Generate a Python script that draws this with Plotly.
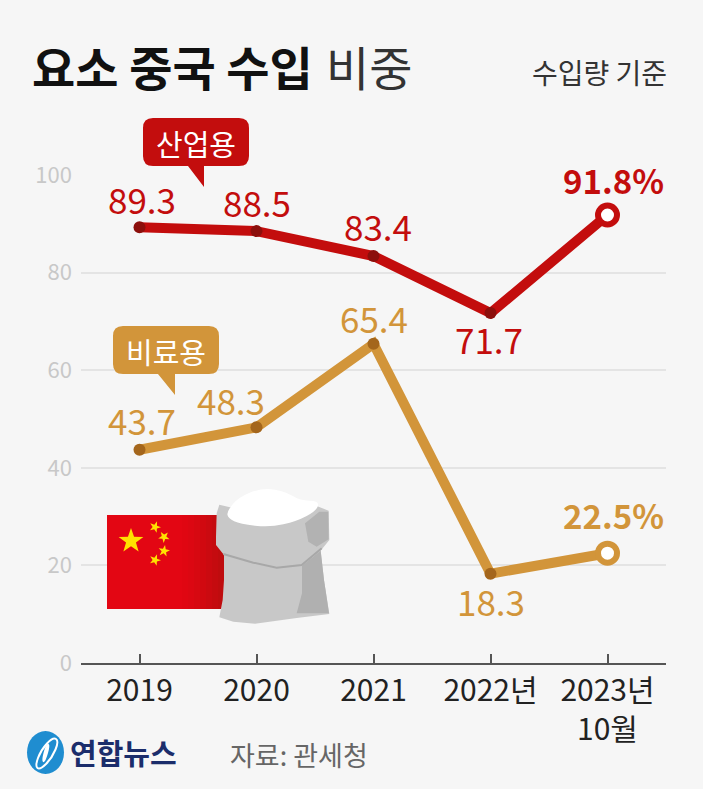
import math
import plotly.graph_objects as go

categories = ["2019", "2020", "2021", "2022년", "2023년<br>10월"]
industrial = [89.3, 88.5, 83.4, 71.7, 91.8]
fertilizer = [43.7, 48.3, 65.4, 18.3, 22.5]
y_ticks = [0, 20, 40, 60, 80, 100]

W, H = 703, 789
L, R, T, B = 81, 666, 175, 663
RED, RED_D = "#c30d0d", "#8c0f0c"
ORG, ORG_D = "#d2953a", "#a4661c"
BG = "#f6f6f6"
FONT = "Noto Sans CJK KR"

def X(px):
    return (px - L) / (R - L)

def Y(py):
    return (B - py) / (B - T)

def P(x, y):
    return f"{X(x):.5f},{Y(y):.5f}"

def poly(points, close=True):
    s = "M" + " L".join(P(x, y) for x, y in points)
    return s + (" Z" if close else "")

def smooth(points):
    n = len(points)
    mid = lambda a, b: ((a[0] + b[0]) / 2, (a[1] + b[1]) / 2)
    s = "M" + P(*mid(points[-1], points[0]))
    for i in range(n):
        s += " Q" + P(*points[i]) + " " + P(*mid(points[i], points[(i + 1) % n]))
    return s + " Z"

shapes = []

def add(path, fill=None, line=None, width=0):
    shapes.append(dict(type="path", xref="paper", yref="paper", path=path, layer="above",
                       fillcolor=fill or "rgba(0,0,0,0)",
                       line=dict(color=line or "rgba(0,0,0,0)", width=width)))

def bubble(x0, y0, x1, y1, r, tip, base0, base1, color):
    s = ("M" + P(x0 + r, y0) + " L" + P(x1 - r, y0) + " Q" + P(x1, y0) + " " + P(x1, y0 + r)
         + " L" + P(x1, y1 - r) + " Q" + P(x1, y1) + " " + P(x1 - r, y1)
         + " L" + P(base1, y1) + " L" + P(*tip) + " L" + P(base0, y1)
         + " L" + P(x0 + r, y1) + " Q" + P(x0, y1) + " " + P(x0, y1 - r)
         + " L" + P(x0, y0 + r) + " Q" + P(x0, y0) + " " + P(x0 + r, y0) + " Z")
    add(s, fill=color)

def star(cx, cy, r, rot=0):
    pts = []
    for i in range(10):
        a = math.radians(-90 + rot + i * 36)
        rr = r if i % 2 == 0 else r * 0.4
        pts.append((cx + rr * math.cos(a), cy + rr * math.sin(a)))
    add(poly(pts), fill="#ffe100")

bubble(143, 118, 249, 166, 10, (204, 187), 188, 204, RED)
bubble(113, 326, 219, 374, 10, (175, 395), 158, 175, ORG)

add(poly([(107, 515), (224, 515), (224, 609), (107, 609)]), fill="#e30613")
shade = ["#e00612", "#dc0712", "#d70811", "#d10910", "#cb0a10", "#c50b0f", "#bf0c0e"]
for i, c in enumerate(shade):
    x0 = 182 + i * 6
    add(poly([(x0, 515), (x0 + 6.5, 515), (x0 + 6.5, 609), (x0, 609)]), fill=c)
star(131, 541, 13)
star(155, 527, 6, 20)
star(164, 537, 6, 40)
star(164, 551, 6, 10)
star(155, 560, 6, 20)

def S(pts):
    return [(a / 3, 480 + b / 3) for a, b in pts]

add(poly(S([(650, 100), (658, 74), (690, 82), (950, 78), (986, 92), (988, 180), (962, 212), (972, 300),
            (988, 402), (890, 414), (765, 431), (700, 425), (658, 412), (668, 360), (672, 300), (672, 225),
            (648, 195), (648, 170)])), fill="#c8c8c8")
add(poly(S([(906, 258), (962, 212), (972, 300), (987, 400), (890, 400), (906, 340)])), fill="#b0b0b0")
add(poly(S([(915, 130), (958, 95), (985, 95), (986, 178), (950, 200), (925, 185)])), fill="#b2b2b2")
add("M" + " L".join(P(a, b) for a, b in S([(670, 222), (760, 248), (830, 263), (905, 255), (965, 205)])),
    line="#a8a8a8", width=2)
add(smooth(S([(680, 95), (715, 52), (790, 22), (860, 36), (900, 62), (958, 62), (950, 92), (890, 124),
              (810, 142), (720, 132), (685, 115)])), fill="#ffffff")

shapes.append(dict(type="circle", xref="paper", yref="paper", layer="above",
                   x0=X(27), x1=X(64), y0=Y(774), y1=Y(731), fillcolor="#1f8dd0", line_width=0))
add(smooth([(53, 737), (59, 741), (52, 758), (40, 770), (35, 766), (41, 750)]), line="#ffffff", width=2)
add(smooth([(48, 743), (50, 746), (46, 760), (43, 763), (42, 759), (45, 747)]), fill="#ffffff")


def text(px, py, s, size, color, xanchor="center", bold=False, font=FONT):
    return dict(xref="paper", yref="paper", x=X(px), y=Y(py), text=f"<b>{s}</b>" if bold else s,
                showarrow=False, xanchor=xanchor, yanchor="middle",
                font=dict(family=font, size=size, color=color))


def value_label(i, series, color, dx, dy, size=35, suffix="", bold=False):
    v = series[i]
    return dict(x=i, y=v, xref="x", yref="y", text=(f"<b>{v}{suffix}</b>" if bold else f"{v}{suffix}"),
                showarrow=False, xanchor="center", yanchor="middle", xshift=dx, yshift=dy,
                font=dict(family=FONT, size=size, color=color))


annotations = [
    text(30, 66, "요소 중국 수입", 47, "#111111", "left", True),
    text(324, 66, "비중", 47, "#333333", "left"),
    text(669, 72, "수입량 기준", 28, "#333333", "right"),
    text(196, 143, "산업용", 29, "#ffffff"),
    text(166, 351, "비료용", 29, "#ffffff"),
    text(68, 752, "연합뉴스", 29, "#1b2d6b", "left", True),
    text(228, 755, "자료: 관세청", 27, "#666666", "left"),
]
red_off = [(2, 29), (0, 30), (4, 31), (-2, -25)]
org_off = [(2, 30), (-26, 28), (0, 26), (0, -27)]
for i, (dx, dy) in enumerate(red_off):
    annotations.append(value_label(i, industrial, RED, dx, dy))
for i, (dx, dy) in enumerate(org_off):
    annotations.append(value_label(i, fertilizer, ORG, dx, dy))
annotations.append(value_label(4, industrial, RED, 6, 35, 33, "%", True))
annotations.append(value_label(4, fertilizer, ORG, 6, 38, 33, "%", True))

fig = go.Figure()
for name, vals, col, dark in [("산업용", industrial, RED, RED_D), ("비료용", fertilizer, ORG, ORG_D)]:
    fig.add_trace(go.Scatter(
        x=list(range(len(categories))), y=vals, name=name, mode="lines+markers",
        line=dict(color=col, width=10),
        marker=dict(size=[12, 12, 12, 12, 19], opacity=1, color=[dark] * 4 + ["#ffffff"],
                    line=dict(color=[dark] * 4 + [col], width=[0, 0, 0, 0, 6])),
        cliponaxis=False,
    ))

fig.update_layout(
    width=W, height=H, showlegend=False, paper_bgcolor=BG, plot_bgcolor=BG,
    margin=dict(l=L, r=W - R, t=T, b=H - B, autoexpand=False),
    xaxis=dict(range=[-0.5, 4.5], tickvals=list(range(5)), ticktext=categories, showgrid=False,
               zeroline=False, showline=True, linecolor="#555555", linewidth=2, ticks="inside",
               ticklen=9, tickwidth=2, tickcolor="#555555",
               tickfont=dict(family=FONT, size=30, color="#222222")),
    yaxis=dict(range=[0, 100], tickvals=y_ticks, showgrid=True, gridcolor="#e4e4e4", gridwidth=2,
               zeroline=False, showline=False, ticks="", ticklabelstandoff=8,
               tickfont=dict(family=FONT, size=22, color="#c8c8c8")),
    shapes=shapes, annotations=annotations, font=dict(family=FONT),
)
fig.write_html("out.html", config=dict(displayModeBar=False),
               post_script="document.body.style.margin='0';")
